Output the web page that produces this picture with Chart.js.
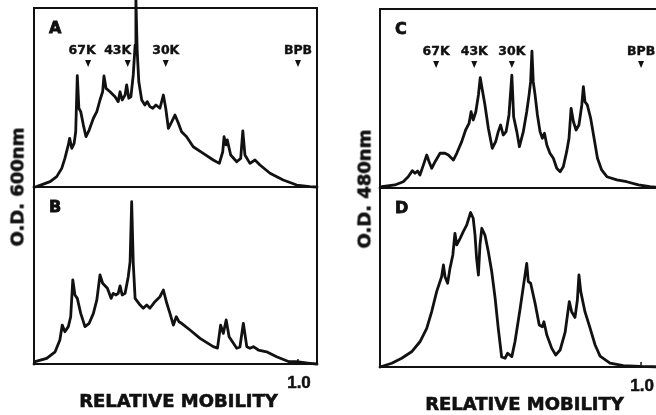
<!DOCTYPE html>
<html>
<head>
<meta charset="utf-8">
<script src="https://cdn.jsdelivr.net/npm/chart.js@4.4.0/dist/chart.umd.min.js"></script>
<style>
  html, body { margin: 0; padding: 0; background: #fff; overflow: hidden; }
  body { width: 656px; height: 415px; position: relative; }
  canvas { position: absolute; }
  .ytitle {
    position: absolute;
    font: bold 18px "DejaVu Sans", sans-serif;
    color: #111;
    -webkit-text-stroke: 0.6px #111;
    white-space: nowrap;
    transform: translate(-50%, -50%) rotate(-90deg);
  }
</style>
</head>
<body>
<canvas id="panelA" width="330" height="190" style="left:0;top:0"></canvas>
<canvas id="panelB" width="330" height="228" style="left:0;top:187px"></canvas>
<canvas id="panelC" width="340" height="191" style="left:330px;top:0"></canvas>
<canvas id="panelD" width="340" height="227" style="left:330px;top:188px"></canvas>
<div class="ytitle" style="left:17px;top:187px">O.D. 600nm</div>
<div class="ytitle" style="left:364px;top:189px">O.D. 480nm</div>
<script>
// densitometer scans, relative mobility vs O.D. (arbitrary units, 0-100)
const mobilityA = [0, 0.010, 0.061, 0.086, 0.105, 0.117, 0.130, 0.135, 0.143, 0.152,
  0.158, 0.164, 0.170, 0.177, 0.187, 0.197, 0.209, 0.225, 0.238, 0.250,
  0.260, 0.265, 0.273, 0.288, 0.307, 0.319, 0.326, 0.334, 0.345, 0.351,
  0.359, 0.367, 0.376, 0.383, 0.386, 0.391, 0.397, 0.408, 0.420, 0.429,
  0.439, 0.450, 0.462, 0.477, 0.490, 0.499, 0.509, 0.522, 0.534, 0.547,
  0.559, 0.578, 0.603, 0.641, 0.679, 0.702, 0.715, 0.720, 0.727, 0.732,
  0.745, 0.768, 0.783, 0.791, 0.799, 0.818, 0.837, 0.856, 0.894, 0.944,
  0.995, 1.045, 1.072];
const odA = [0, 0.2, 3.0, 5.8, 10.4, 16.0, 23.5, 27.2, 21.6, 24.4,
  30.9, 62.2, 44.0, 42.1, 34.6, 28.1, 31.8, 38.4, 42.1, 48.6,
  53.2, 62.0, 55.1, 53.2, 50.4, 47.7, 53.2, 48.6, 51.4, 57.0,
  49.6, 50.4, 62.6, 79.3, 105, 75.6, 58.8, 48.6, 45.8, 47.7,
  44.9, 44.0, 45.8, 44.0, 51.4, 44.0, 32.8, 36.5, 40.2, 35.6,
  30.9, 28.1, 22.5, 18.8, 15.1, 13.2, 19.7, 28.1, 23.5, 26.3,
  17.9, 14.1, 16.0, 31.3, 17.9, 13.2, 15.1, 12.3, 7.7, 3.9,
  1.1, 0.2, 0];

const mobilityB = [0, 0.004, 0.048, 0.080, 0.098, 0.107, 0.117, 0.130, 0.139, 0.147,
  0.155, 0.164, 0.177, 0.193, 0.209, 0.225, 0.238, 0.250, 0.260, 0.278,
  0.292, 0.300, 0.311, 0.319, 0.326, 0.334, 0.345, 0.357, 0.364, 0.370,
  0.376, 0.383, 0.402, 0.414, 0.427, 0.439, 0.458, 0.477, 0.490, 0.503,
  0.515, 0.528, 0.539, 0.549, 0.559, 0.591, 0.629, 0.679, 0.695, 0.707,
  0.717, 0.728, 0.739, 0.768, 0.780, 0.793, 0.806, 0.818, 0.831, 0.850,
  0.881, 0.919, 0.966, 0.995, 1.045, 1.072];
const odB = [0, 1.3, 3.2, 6.9, 13.6, 22.0, 18.2, 21.1, 26.7, 47.5,
  39.0, 37.1, 28.6, 21.1, 23.0, 28.6, 36.2, 50.3, 45.6, 42.8,
  37.1, 39.9, 39.0, 39.9, 44.1, 39.0, 39.9, 49.3, 57.8, 91.7,
  56.9, 37.1, 33.3, 31.5, 33.3, 31.5, 35.2, 38.0, 41.8, 34.3,
  28.6, 22.0, 26.7, 23.9, 23.0, 19.2, 14.5, 9.8, 9.0, 22.0,
  17.3, 24.9, 15.4, 8.9, 9.6, 23.0, 9.8, 8.9, 9.8, 7.9,
  6.9, 4.1, 1.3, 1.3, 0.4, 0];

const mobilityC = [0, 0.007, 0.057, 0.089, 0.108, 0.124, 0.134, 0.144, 0.153, 0.166,
  0.179, 0.188, 0.198, 0.211, 0.230, 0.249, 0.262, 0.281, 0.294, 0.313,
  0.328, 0.341, 0.349, 0.357, 0.367, 0.377, 0.384, 0.392, 0.402, 0.415,
  0.430, 0.443, 0.453, 0.462, 0.472, 0.483, 0.494, 0.505, 0.512, 0.524,
  0.534, 0.549, 0.562, 0.571, 0.577, 0.582, 0.587, 0.594, 0.603, 0.613,
  0.622, 0.630, 0.639, 0.651, 0.664, 0.677, 0.690, 0.702, 0.715, 0.724,
  0.732, 0.741, 0.751, 0.762, 0.773, 0.779, 0.785, 0.794, 0.807, 0.820,
  0.833, 0.849, 0.869, 0.907, 0.945, 0.990, 1.034, 1.084];
const odC = [0, 0.7, 1.7, 3.5, 6.3, 9.7, 8.2, 9.5, 7.3, 12.8,
  18.4, 14.7, 11.0, 14.7, 19.4, 19.4, 18.4, 15.6, 19.4, 25.9,
  32.4, 36.1, 42.6, 38.0, 42.6, 52.0, 61.6, 54.7, 46.4, 33.4,
  22.2, 25.9, 31.5, 35.2, 29.6, 31.5, 40.8, 63.1, 39.7, 31.5,
  23.1, 31.5, 42.6, 52.0, 59.4, 76.5, 59.4, 52.0, 40.8, 31.5,
  27.8, 30.6, 24.0, 19.4, 16.6, 11.0, 9.1, 11.9, 20.3, 27.8,
  44.5, 37.0, 32.4, 35.2, 46.4, 56.6, 48.2, 46.4, 38.9, 27.8,
  16.6, 10.1, 6.3, 4.5, 3.5, 1.7, 0.7, 0];

const mobilityD = [0, 0.045, 0.083, 0.121, 0.153, 0.179, 0.198, 0.217, 0.236, 0.243,
  0.249, 0.259, 0.268, 0.279, 0.287, 0.294, 0.307, 0.319, 0.332, 0.347,
  0.357, 0.364, 0.370, 0.377, 0.383, 0.390, 0.402, 0.415, 0.428, 0.441,
  0.453, 0.466, 0.479, 0.489, 0.505, 0.517, 0.536, 0.549, 0.562, 0.568,
  0.577, 0.594, 0.610, 0.622, 0.628, 0.639, 0.658, 0.673, 0.690, 0.709,
  0.725, 0.734, 0.747, 0.756, 0.762, 0.769, 0.785, 0.805, 0.824, 0.843,
  0.881, 0.932, 0.996, 1.084];
const odD = [0, 2.1, 4.9, 8.5, 14.1, 21.6, 30.9, 42.1, 50.4, 57.0,
  50.4, 46.8, 55.1, 62.6, 74.7, 68.2, 71.9, 75.6, 79.3, 86.3,
  83.1, 73.7, 60.7, 51.4, 68.2, 77.5, 73.7, 64.4, 53.2, 38.4,
  21.6, 5.6, 4.9, 7.7, 5.8, 14.1, 31.8, 44.9, 57.9, 47.7,
  46.8, 35.6, 23.5, 22.5, 25.3, 17.9, 10.4, 6.7, 9.5, 19.3,
  36.5, 30.9, 27.7, 37.4, 51.4, 42.1, 30.9, 21.6, 12.3, 6.1,
  2.2, 0.8, 0.3, 0];

// molecular weight standards and dye front
const markerLabels = ['67K', '43K', '30K', 'BPB'];
const markersLeft = [0.205, 0.355, 0.499, 1.0];
const markersRight = [0.215, 0.361, 0.505, 1.0];

const INK = '#111';

// fill + thin stroke so the bold type looks heavier
function heavyText(ctx, text, x, y, stroke) {
  ctx.fillText(text, x, y);
  ctx.lineWidth = stroke;
  ctx.strokeText(text, x, y);
}

const panelPlugin = {
  id: 'panel',
  afterDatasetsDraw(chart, args, opts) {
    const { ctx, chartArea: a } = chart;
    const x = chart.scales.x;
    ctx.save();
    ctx.strokeStyle = INK;
    ctx.fillStyle = INK;
    ctx.lineWidth = 2;
    ctx.strokeRect(a.left, a.top, a.right - a.left, a.bottom - a.top);

    // panel letter
    ctx.font = 'bold 16px "DejaVu Sans"';
    ctx.textAlign = 'left';
    ctx.textBaseline = 'alphabetic';
    heavyText(ctx, opts.letter, a.left + 15, a.top + 25, 0.8);

    // marker arrows with labels
    if (opts.markers) {
      ctx.font = 'bold 12.5px "DejaVu Sans"';
      ctx.textAlign = 'center';
      opts.markers.forEach((m, i) => {
        const px = x.getPixelForValue(m);
        heavyText(ctx, markerLabels[i], px + (opts.labelShift ? opts.labelShift[i] : 0), a.top + 46, 0.4);
        ctx.beginPath();
        ctx.moveTo(px - 3, a.top + 52);
        ctx.lineTo(px + 3, a.top + 52);
        ctx.lineTo(px, a.top + 59);
        ctx.closePath();
        ctx.fill();
      });
    }

    // bottom axis: tick at 1.0 and title
    if (opts.axis) {
      const p1 = x.getPixelForValue(1);
      ctx.lineWidth = 1.5;
      ctx.beginPath();
      ctx.moveTo(p1, a.bottom);
      ctx.lineTo(p1, a.bottom - 5);
      ctx.stroke();
      ctx.textAlign = 'center';
      ctx.font = 'bold 17px "Liberation Sans"';
      heavyText(ctx, '1.0', p1 + 1, a.bottom + 24, 0.5);
      ctx.font = 'bold 18px "DejaVu Sans"';
      heavyText(ctx, 'RELATIVE MOBILITY', (a.left + a.right) / 2 + 3, a.bottom + 43, 0.6);
    }
    ctx.restore();
  }
};

function makePanel(id, mobility, od, xMax, padding, panelOpts) {
  return new Chart(document.getElementById(id), {
    type: 'line',
    data: {
      datasets: [{
        data: mobility.map((m, i) => ({ x: m, y: od[i] })),
        borderColor: INK,
        borderWidth: 2.8,
        borderJoinStyle: 'round',
        borderCapStyle: 'round',
        pointRadius: 0,
        tension: 0,
        clip: false
      }]
    },
    options: {
      responsive: false,
      animation: false,
      devicePixelRatio: 1,
      events: [],
      layout: { padding },
      plugins: {
        legend: { display: false },
        tooltip: { enabled: false },
        panel: panelOpts
      },
      scales: {
        x: { type: 'linear', min: 0, max: xMax, display: false },
        y: { type: 'linear', min: 0, max: 100, display: false }
      }
    },
    plugins: [panelPlugin]
  });
}

makePanel('panelA', mobilityA, odA, 1.072, { left: 34, top: 8, right: 13, bottom: 3 },
  { letter: 'A', markers: markersLeft, labelShift: [-6, -10, 0, 0] });
makePanel('panelB', mobilityB, odB, 1.072, { left: 34, top: 0, right: 13, bottom: 51 },
  { letter: 'B', axis: true });
makePanel('panelC', mobilityC, odC, 1.084, { left: 50, top: 9, right: 7, bottom: 3 },
  { letter: 'C', markers: markersRight });
makePanel('panelD', mobilityD, odD, 1.084, { left: 50, top: 0, right: 7, bottom: 48 },
  { letter: 'D', axis: true });
</script>
</body>
</html>
